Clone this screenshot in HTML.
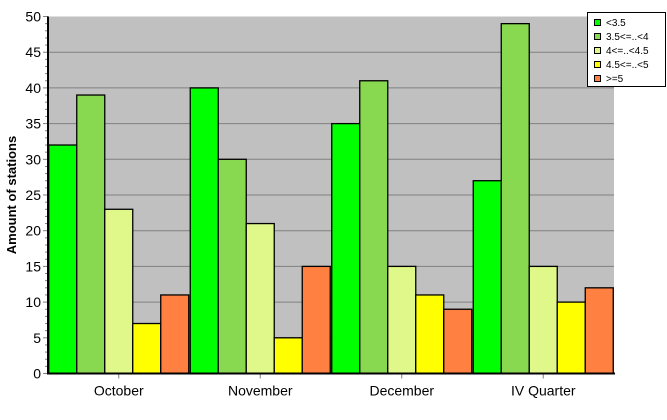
<!DOCTYPE html>
<html><head><meta charset="utf-8"><style>
body{margin:0;background:#fff}
svg text{font-family:"Liberation Sans",Arial,sans-serif}
</style></head><body>
<svg id="c" width="667" height="415" xmlns="http://www.w3.org/2000/svg">
<rect x="48" y="16.5" width="566" height="357" fill="#c0c0c0"/>
<g id="grid"></g>
<g id="bars"></g>
<g id="axes"></g>
<text x="16" y="195" transform="rotate(-90 16 195)" text-anchor="middle" font-size="13" font-weight="bold">Amount of stations</text>
<g id="legend"></g>
</svg>
<script>
const categories=["October","November","December","IV Quarter"];
const seriesNames=["<3.5","3.5<=..<4","4<=..<4.5","4.5<=..<5",">=5"];
const s1=[32,40,35,27];
const s2=[39,30,41,49];
const s3=[23,21,15,15];
const s4=[7,5,11,10];
const s5=[11,15,9,12];
const yTicks=[0,5,10,15,20,25,30,35,40,45,50];
const series=[s1,s2,s3,s4,s5];
const colors=["#00ff00","#88d94f","#e0f88a","#ffff00","#ff8040"];
const NS="http://www.w3.org/2000/svg";
const L=48,R=614,T=16.5,B=373.5,YMAX=50;
const y=v=>B-(v/YMAX)*(B-T);
const gw=(R-L)/categories.length, bw=28;
const gx=i=>L+i*gw;
function mk(t,a,p){const e=document.createElementNS(NS,t);for(const k in a)e.setAttribute(k,a[k]);p.appendChild(e);return e;}
const grid=document.getElementById('grid'),bars=document.getElementById('bars'),axes=document.getElementById('axes'),leg=document.getElementById('legend');
yTicks.forEach(v=>{
  if(v>0&&v<YMAX){const g=mk('line',{x1:L,x2:R,y1:y(v),y2:y(v),stroke:'#808080','stroke-width':1},grid);
  
  }
  const t=mk('text',{x:41,y:y(v)+5,'text-anchor':'end','font-size':14},axes);t.textContent=v;
  
  
  mk('line',{x1:43,x2:48,y1:y(v),y2:y(v),stroke:'#808080'},axes);
});
for(let v=1;v<YMAX;v++){if(v%5)mk('line',{x1:45,x2:48,y1:y(v),y2:y(v),stroke:'#808080'},axes);}
categories.forEach((c,i)=>{
  const x0=gx(i)+(gw-bw*5)/2;
  series.forEach((s,j)=>{
    const r=mk('rect',{x:x0+j*bw,y:y(s[i]),width:bw,height:B-y(s[i]),fill:colors[j],stroke:'#000','stroke-width':1.3},bars);
    
    
  });
  const cx=gx(i)+gw/2;
  mk('line',{x1:cx,x2:cx,y1:B,y2:B+5,stroke:'#808080'},axes);
  const t=mk('text',{x:cx,y:B+22,'text-anchor':'middle','font-size':14},axes);t.textContent=c;
  
  
});
mk('line',{x1:L,x2:L,y1:T,y2:B+1,stroke:'#000','stroke-width':2},axes);
mk('line',{x1:L-1,x2:R+1,y1:B,y2:B,stroke:'#000','stroke-width':2},axes);
mk('rect',{x:587.5,y:12.5,width:78,height:74,fill:'#fff',stroke:'#000'},leg);
seriesNames.forEach((n,j)=>{
  const yy=19+j*14;
  const sw=mk('rect',{x:594.5,y:yy+0.5,width:6,height:6,fill:colors[j],stroke:'#000'},leg);
  
  
  const t=mk('text',{x:606,y:yy+7,'font-size':10},leg);t.textContent=n;
  
  
});
</script>
</body></html>
